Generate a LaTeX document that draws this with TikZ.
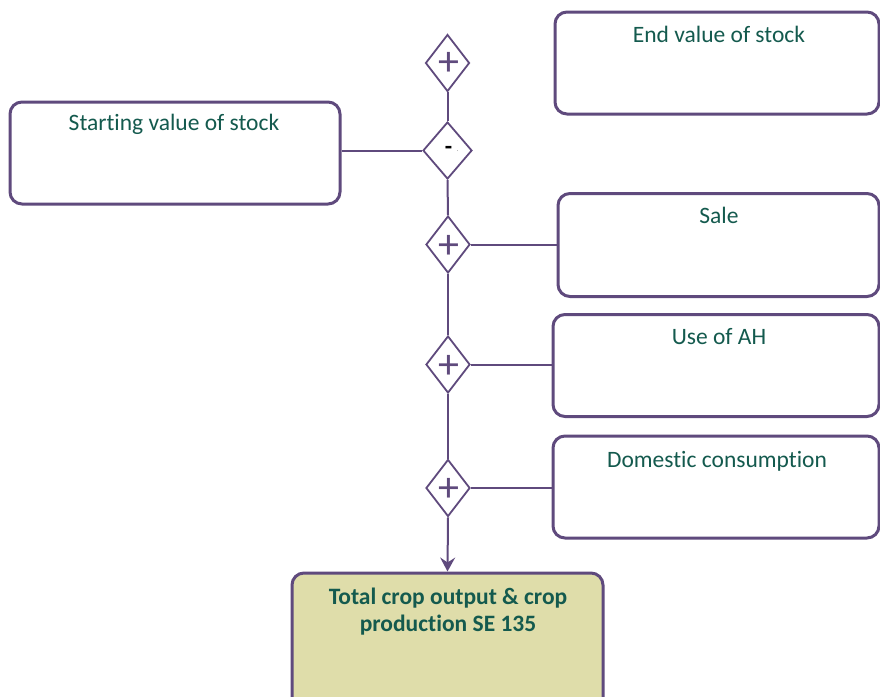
\documentclass[tikz,border=0pt]{standalone}
\usepackage{fontspec}
\setmainfont{Carlito}[Ligatures=NoCommon]
\usetikzlibrary{shapes.geometric,arrows.meta}
\definecolor{lineP}{HTML}{5F4A7D}
\definecolor{txtG}{HTML}{145A4E}
\definecolor{fillY}{HTML}{DFDDAA}
\tikzset{
  box/.style={draw=lineP, line width=3pt, rounded corners=12pt, fill=white, inner sep=0pt},
  lbl/.style={text=txtG, font=\fontsize{23.5}{27}\selectfont, anchor=north, inner sep=0pt},
  dia/.style={draw=lineP, line width=1.8pt, diamond, aspect=0.78, inner sep=0pt, minimum width=44pt, minimum height=57pt, fill=white},
  plus/.style={text=lineP, font=\fontsize{42}{42}\selectfont, inner sep=0pt},
  conn/.style={draw=lineP, line width=2pt}
}
\begin{document}
\begin{tikzpicture}[x=1pt,y=-1pt]
\useasboundingbox (0,0) rectangle (880,696);
\clip (0,0) rectangle (880,696);
% boxes
\node[box, minimum width=330pt, minimum height=102pt] (start) at (175,153) {};
\node[box, minimum width=324pt, minimum height=102pt] (endv) at (717,63) {};
\node[box, minimum width=321pt, minimum height=103pt] (sale) at (718.5,245) {};
\node[box, minimum width=326pt, minimum height=102pt] (useah) at (716,365.5) {};
\node[box, minimum width=326pt, minimum height=102pt] (dom) at (716,487) {};
\node[box, fill=fillY, minimum width=311pt, minimum height=150pt] (total) at (447.5,648) {};
% labels
\node[lbl] (tstart) at (174,114) {Starting value of stock};
\node[lbl] (tend) at (719,26) {End value of stock};
\node[lbl] (tsale) at (719,207) {Sale};
\node[lbl] (tuse) at (719,328) {Use of AH};
\node[lbl] (tdom) at (717,451) {Domestic consumption};
\node[lbl, font=\bfseries\fontsize{23.5}{27}\selectfont, align=center] (ttotal) at (448,588) {Total crop output \& crop\\production SE 135};
% diamonds
\node[dia] (d1) at (447.5,63) {};
\node[dia, minimum width=49pt, aspect=0.86] (d2) at (447.5,150.5) {};
\node[dia] (d3) at (448,244.5) {};
\node[dia] (d4) at (448,364.5) {};
\node[dia] (d5) at (448,488) {};
\node[plus] (p1) at (448.5,64) {+};
\node[plus] (p3) at (449,246.5) {+};
\node[plus] (p4) at (449,366.5) {+};
\node[plus] (p5) at (449,490) {+};
\node[inner sep=0pt, font=\bfseries\fontsize{24}{24}\selectfont] (m2) at (448.5,150) {-};
\node[inner sep=0pt, font=\fontsize{5}{5}\selectfont] (dot2) at (457.5,151) {.};
% connectors
\draw[conn] (d1.south) -- (d2.north);
\draw[conn] (d2.south) -- (d3.north);
\draw[conn] (d3.south) -- (d4.north);
\draw[conn] (d4.south) -- (d5.north);
\draw[conn, -{Stealth[length=14pt, width=15pt, inset=5pt]}] (d5.south) -- (total.north);
\draw[conn] (start.east |- d2.west) -- (d2.west);
\draw[conn] (d3.east) -- (sale.west |- d3.east);
\draw[conn] (d4.east) -- (useah.west |- d4.east);
\draw[conn] (d5.east) -- (dom.west |- d5.east);
\end{tikzpicture}
\end{document}
